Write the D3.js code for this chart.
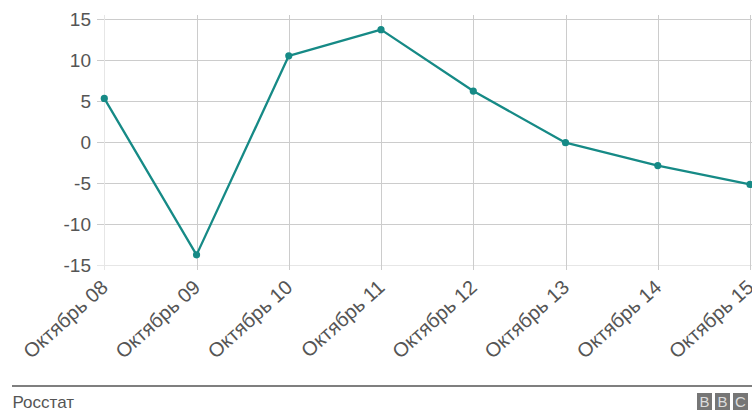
<!DOCTYPE html>
<html><head><meta charset="utf-8">
<script src="https://cdn.jsdelivr.net/npm/d3@7"></script>
<style>
html,body{margin:0;padding:0;background:#fff;overflow:hidden;}
svg{display:block;font-family:"Liberation Sans",Arial,sans-serif;}
</style></head>
<body>
<svg id="c" width="752" height="412"></svg>
<script>
const categories = ["Октябрь 08","Октябрь 09","Октябрь 10","Октябрь 11","Октябрь 12","Октябрь 13","Октябрь 14","Октябрь 15"];
const values = [5.3, -13.8, 10.5, 13.7, 6.2, -0.1, -2.9, -5.2];
const yTicks = [15, 10, 5, 0, -5, -10, -15];
const sourceText = "Росстат";
const logoLetters = ["B","B","C"];

const svg = d3.select("#c");
const x = d3.scalePoint().domain(categories).range([104.3, 750]);
const y = d3.scaleLinear().domain([-15, 15]).range([264.7, 19]);

// horizontal grid
const gy = svg.append("g");
gy.selectAll("line").data(yTicks).join("line")
  .attr("x1", 97).attr("x2", 752)
  .attr("y1", d => Math.round(y(d)) + 0.5).attr("y2", d => Math.round(y(d)) + 0.5)
  .attr("stroke", d => d === -15 ? "#e6e6e6" : "#cccccc").attr("stroke-width", 1);
// vertical grid
const gx = svg.append("g");
gx.selectAll("line").data(categories).join("line")
  .attr("x1", d => Math.round(x(d)) + 0.5).attr("x2", d => Math.round(x(d)) + 0.5)
  .attr("y1", 15).attr("y2", 270)
  .attr("stroke", (d, i) => i === 0 ? "#e6e6e6" : "#cccccc").attr("stroke-width", 1);

// y axis labels
const yAxis = d3.axisLeft(y).tickValues(yTicks).tickSize(0).tickPadding(0).tickFormat(d => String(d));
const ya = svg.append("g").attr("transform", "translate(91,0)").call(yAxis);
ya.select(".domain").remove();
ya.selectAll("text").attr("font-size", 19).attr("fill", "#555")
  .attr("font-family", "'Liberation Sans',Arial,sans-serif").attr("dy", "0.36em");

// x axis labels
const xAxis = d3.axisBottom(x).tickSize(0).tickPadding(0);
const xa = svg.append("g").call(xAxis);
xa.select(".domain").remove();
xa.selectAll(".tick").attr("transform", d => `translate(${x(d) + 5},289)`);
xa.selectAll("text").attr("font-size", 20).attr("fill", "#555")
  .attr("font-family", "'Liberation Sans',Arial,sans-serif")
  .attr("text-anchor", "end").attr("y", 0).attr("dy", 0)
  .attr("transform", "rotate(-42)");

// line
const color = "#168a86";
svg.append("path").datum(values)
  .attr("fill", "none").attr("stroke", color).attr("stroke-width", 2.3)
  .attr("stroke-linejoin", "round")
  .attr("d", d3.line().x((d, i) => x(categories[i])).y(d => y(d)));
svg.append("g").selectAll("circle").data(values).join("circle")
  .attr("cx", (d, i) => x(categories[i])).attr("cy", d => y(d))
  .attr("r", 3.6).attr("fill", color);

// footer
svg.append("line").attr("x1", 12).attr("x2", 752).attr("y1", 386).attr("y2", 386)
  .attr("stroke", "#555").attr("stroke-width", 1.5);
svg.append("text").attr("x", 12.5).attr("y", 408).attr("font-size", 17)
  .attr("fill", "#555").text(sourceText);
const logo = svg.append("g");
logo.selectAll("rect").data(logoLetters).join("rect")
  .attr("x", (d, i) => 697 + i * 18).attr("y", 393).attr("width", 15).attr("height", 17)
  .attr("fill", "#767676");
logo.selectAll("text").data(logoLetters).join("text")
  .attr("x", (d, i) => 697 + i * 18 + 7.5).attr("y", 406.5).attr("text-anchor", "middle")
  .attr("font-size", 15).attr("fill", "#dddddd").text(d => d);
</script>
</body></html>
